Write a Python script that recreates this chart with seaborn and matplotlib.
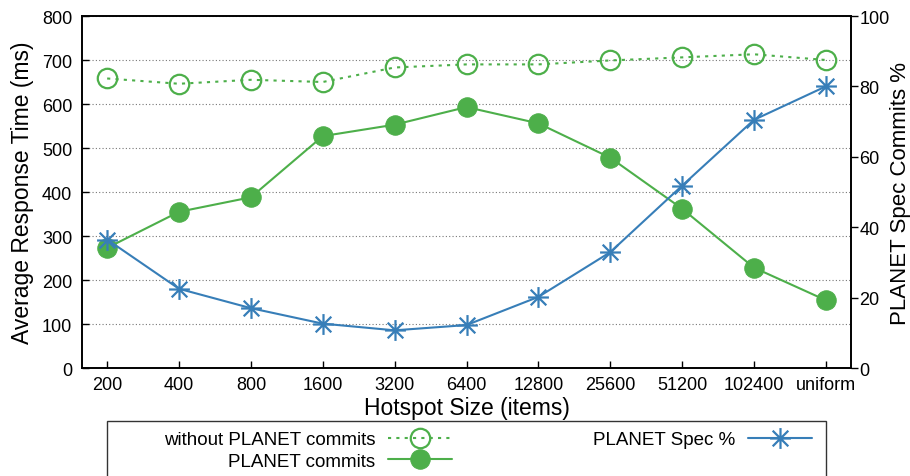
import numpy as np
import matplotlib
matplotlib.use("Agg")
import matplotlib.pyplot as plt
from matplotlib.path import Path
from matplotlib.patches import Rectangle
import seaborn as sns

# values
sizes = ['200', '400', '800', '1600', '3200', '6400', '12800', '25600', '51200', '102400', 'uniform']
without_planet = [658, 646, 655, 650, 683, 690, 690, 699, 706, 713, 700]
planet_commits = [273, 355, 388, 527, 553, 593, 556, 478, 362, 228, 154]
planet_spec = [36.5, 22.5, 17.0, 12.6, 10.7, 12.2, 20.2, 32.9, 51.8, 70.5, 80.0]

green = '#4daf4a'
blue = '#377eb8'

sns.set_style('white')
plt.rcParams['font.family'] = ['Liberation Sans', 'DejaVu Sans']
plt.rcParams['text.color'] = 'black'
plt.rcParams['axes.labelcolor'] = 'black'
plt.rcParams['xtick.color'] = 'black'
plt.rcParams['ytick.color'] = 'black'

# gnuplot-style "*" point: plus and cross on top of each other
M, L = Path.MOVETO, Path.LINETO
star = Path([(-1, 0), (1, 0), (0, -1), (0, 1), (-.75, -.75), (.75, .75), (-.75, .75), (.75, -.75)],
            [M, L, M, L, M, L, M, L])

fig = plt.figure(figsize=(9.1, 4.77), dpi=100)
ax = fig.add_axes([82 / 910, 1 - 369 / 477, (851 - 82) / 910, (369 - 17) / 477])
ax2 = ax.twinx()

sns.lineplot(x=sizes, y=without_planet, ax=ax, sort=False, legend=False, color=green,
             linestyle=(0, (1.5, 2.5)), linewidth=1.5, marker='o', markersize=14,
             markerfacecolor='none', markeredgecolor=green, markeredgewidth=1.6,
             label='without PLANET commits')
sns.lineplot(x=sizes, y=planet_commits, ax=ax, sort=False, legend=False, color=green,
             linewidth=1.5, marker='o', markersize=14, markerfacecolor=green,
             markeredgecolor=green, label='PLANET commits')
sns.lineplot(x=sizes, y=planet_spec, ax=ax2, sort=False, legend=False, color=blue,
             linewidth=1.5, marker=star, markersize=15, markerfacecolor=blue,
             markeredgecolor=blue, markeredgewidth=1.6, label='PLANET Spec %')

ax.set_xlim(-0.35, len(sizes) - 0.65)
ax.set_ylim(0, 800)
ax.set_yticks(range(0, 801, 100))
ax2.set_ylim(0, 100)
ax2.set_yticks(range(0, 101, 20))

ax.grid(axis='y', color='#777777', linestyle=(0, (1, 2)), linewidth=0.8)
ax.grid(axis='x', visible=False)
ax.set_axisbelow(True)

for a in (ax, ax2):
    for s in a.spines.values():
        s.set_visible(True)
        s.set_color('black')
        s.set_linewidth(1.2)

ax.tick_params(axis='y', direction='in', length=5, width=1, labelsize=13, pad=7, left=True, right=False)
ax.tick_params(axis='x', direction='in', length=5, width=1, labelsize=13, pad=6, bottom=True, top=False)
ax2.tick_params(axis='y', direction='out', length=5, width=1, labelsize=13, pad=1, right=True, left=False)

ax.set_xlabel('Hotspot Size (items)', fontsize=16.5, labelpad=2)
ax.set_ylabel('Average Response Time (ms)', fontsize=16.5, labelpad=6)
ax2.set_ylabel('PLANET Spec Commits %', fontsize=16, labelpad=0)

# legend box, cut off by the bottom of the figure like the original
fig.patches.append(Rectangle((107 / 910, -0.1), (826 - 107) / 910, 0.1 + (477 - 422) / 477,
                             transform=fig.transFigure, fill=False, edgecolor='#333333',
                             linewidth=1.0, figure=fig))

l1, l2 = ax.lines[0], ax.lines[1]
l3 = ax2.lines[0]
leg_kw = dict(frameon=False, markerfirst=False, borderpad=0, borderaxespad=0,
              handlelength=3.4, handletextpad=0.7, labelspacing=0.25, fontsize=13.5,
              loc='upper right', bbox_transform=fig.transFigure)
leg1 = fig.legend([l1, l2], [l1.get_label(), l2.get_label()],
                  bbox_to_anchor=(452 / 910, 1 - 432 / 477), **leg_kw)
leg2 = fig.legend([l3], [l3.get_label()],
                  bbox_to_anchor=(812 / 910, 1 - 432 / 477), **leg_kw)

fig.savefig('out.png', dpi=100)
